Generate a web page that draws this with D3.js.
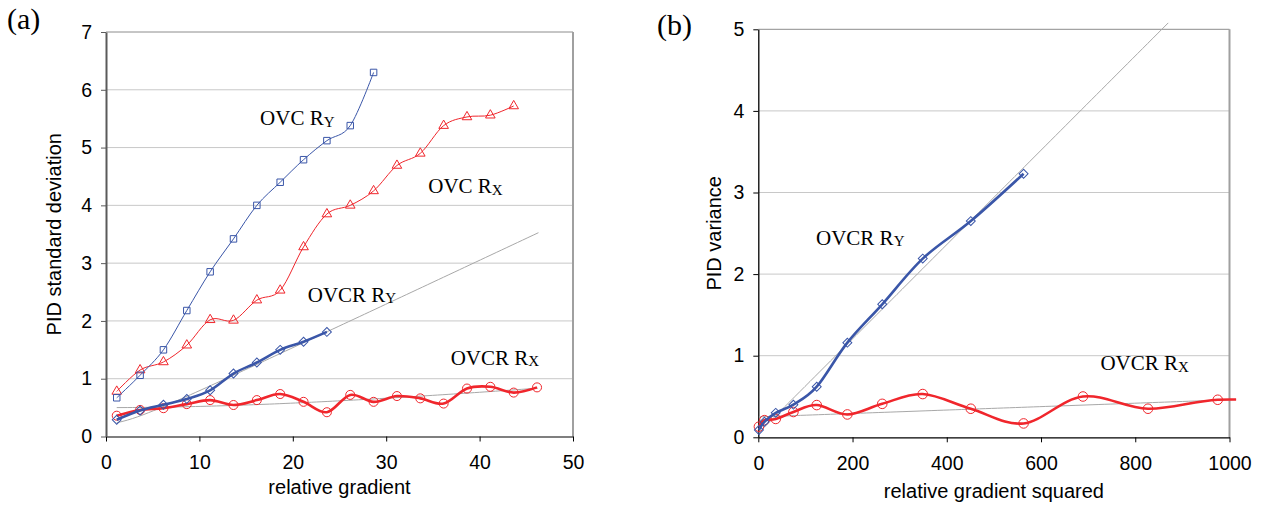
<!DOCTYPE html>
<html>
<head>
<meta charset="utf-8">
<script src="https://cdn.jsdelivr.net/npm/d3@7"></script>
<style>
  html, body { margin: 0; padding: 0; background: #fff; }
  svg { display: block; }
  .tick text { font-family: "Liberation Sans", Arial, sans-serif; font-size: 19.5px; fill: #000; }
  .axis-title { font-family: "Liberation Sans", Arial, sans-serif; font-size: 20px; fill: #000; }
  .note { font-family: "Liberation Serif", "Times New Roman", serif; font-size: 21px; fill: #000; }
  .panel-tag { font-family: "Liberation Serif", "Times New Roman", serif; font-size: 30px; fill: #000; }
</style>
</head>
<body>
<svg id="chart" width="1261" height="508"></svg>
<script>
// ---- panel (a): PID standard deviation vs relative gradient ----
const gradient = [1.15, 3.65, 6.15, 8.65, 11.15, 13.65, 16.15, 18.65, 21.15, 23.65,
                  26.15, 28.65, 31.15, 33.65, 36.15, 38.65, 41.15, 43.65, 46.15];
const sdOvcRY  = [0.67, 1.06, 1.50, 2.18, 2.85, 3.42, 4.00, 4.40, 4.79, 5.12, 5.38, 6.30];
const sdOvcRX  = [0.78, 1.15, 1.29, 1.58, 2.02, 2.01, 2.36, 2.53, 3.28, 3.85, 4.00, 4.25,
                  4.69, 4.90, 5.38, 5.53, 5.56, 5.72];
const sdOvcrRY = [0.29, 0.45, 0.55, 0.65, 0.80, 1.09, 1.28, 1.50, 1.64, 1.81];
const sdOvcrRX = [0.36, 0.46, 0.49, 0.56, 0.63, 0.545, 0.63, 0.735, 0.60, 0.42, 0.72, 0.60,
                  0.70, 0.66, 0.57, 0.83, 0.86, 0.76, 0.85];
const xTicksA = [0, 10, 20, 30, 40, 50];
const yTicksA = [0, 1, 2, 3, 4, 5, 6, 7];

// ---- panel (b): PID variance vs relative gradient squared ----
const gradientSq = [1.3, 13, 37, 74.5, 124, 189, 263, 349, 451, 563, 689, 827, 975, 1132];
const varOvcrRY  = [0.09, 0.19, 0.30, 0.40, 0.62, 1.16, 1.63, 2.19, 2.65, 3.23];
const varOvcrRX  = [0.13, 0.21, 0.225, 0.31, 0.395, 0.28, 0.41, 0.53, 0.35, 0.17, 0.50, 0.35, 0.46, 0.43];
const xTicksB = [0, 200, 400, 600, 800, 1000];
const yTicksB = [0, 1, 2, 3, 4, 5];

// linear fits of variance against gradient squared: [intercept, slope]
const fitRY = [0.05, 0.00578];
const fitRX = [0.25, 0.00021];
const fitSpanA_RY = [1.15, 46.3], fitSpanA_RX = [1.15, 46.2];
const fitSpanB_RY = [1.3, 870],  fitSpanB_RX = [1.3, 1014];

const BLUE = "#3a56a8", RED = "#f0262c";

const svg = d3.select("#chart");

function zip(xs, ys) { return ys.map((v, i) => [xs[i], v]); }

function frame(cfg) {
  const g = svg.append("g");
  const x = d3.scaleLinear().domain(cfg.xDomain).range([cfg.left, cfg.right]);
  const y = d3.scaleLinear().domain(cfg.yDomain).range([cfg.bottom, cfg.top]);

  // horizontal gridlines
  g.append("g").selectAll("line")
    .data(cfg.yTicks.filter(v => v > cfg.yDomain[0] && v < cfg.yDomain[1]))
    .join("line")
    .attr("x1", x(cfg.xDomain[0])).attr("x2", x(cfg.xDomain[1]))
    .attr("y1", d => y(d)).attr("y2", d => y(d))
    .attr("stroke", "#c8c8c8").attr("stroke-width", 1);

  // plot area border (top, right)
  g.append("line")
    .attr("x1", x(cfg.xDomain[0])).attr("x2", x(cfg.xDomain[1]))
    .attr("y1", y(cfg.yDomain[1])).attr("y2", y(cfg.yDomain[1]))
    .attr("stroke", "#8c8c8c").attr("stroke-width", 1);
  g.append("line")
    .attr("x1", x(cfg.xDomain[1])).attr("x2", x(cfg.xDomain[1]))
    .attr("y1", y(cfg.yDomain[1])).attr("y2", y(cfg.yDomain[0]))
    .attr("stroke", "#a0a0a0").attr("stroke-width", 2);

  // axes
  const fmt = d3.format("d");
  const ax = g.append("g").attr("transform", `translate(0,${y(cfg.yDomain[0])})`)
    .call(d3.axisBottom(x).tickValues(cfg.xTicks).tickFormat(fmt)
      .tickSize(5).tickSizeOuter(0).tickPadding(14));
  ax.select(".domain").attr("stroke", "#000").attr("stroke-width", 1.2);
  ax.selectAll(".tick line").attr("stroke", "#000");

  const ay = g.append("g").attr("transform", `translate(${x(cfg.xDomain[0])},0)`)
    .call(d3.axisLeft(y).tickValues(cfg.yTicks).tickFormat(fmt)
      .tickSize(5).tickSizeOuter(0).tickPadding(9));
  ay.select(".domain").attr("stroke", cfg.yAxisColor).attr("stroke-width", cfg.yAxisWidth);
  ay.selectAll(".tick line").attr("stroke", cfg.yAxisColor);

  return { g, x, y };
}

function fitCurve(p, fit, span, squared) {
  const n = 80;
  const pts = d3.range(n + 1).map(i => {
    const xv = span[0] + (span[1] - span[0]) * i / n;
    const yv = squared ? Math.sqrt(fit[0] + fit[1] * xv * xv) : fit[0] + fit[1] * xv;
    return [xv, yv];
  });
  p.g.append("path")
    .attr("d", d3.line().x(d => p.x(d[0])).y(d => p.y(d[1]))(pts))
    .attr("fill", "none").attr("stroke", "#a8a8a8").attr("stroke-width", 1);
}

function series(p, pts, color, width, symbol, size, rotate, xMax) {
  const line = d3.line().curve(d3.curveCardinal.tension(0))
    .x(d => p.x(d[0])).y(d => p.y(d[1]));
  p.g.append("path").attr("d", line(pts))
    .attr("fill", "none").attr("stroke", color).attr("stroke-width", width)
    .attr("stroke-linejoin", "round")
    .attr("clip-path", p.clip ? `url(#${p.clip})` : null);
  const sym = d3.symbol().type(symbol).size(size);
  p.g.append("g").selectAll("path")
    .data(pts.filter(d => d[0] <= xMax))
    .join("path")
    .attr("d", sym)
    .attr("transform", d => `translate(${p.x(d[0])},${p.y(d[1])}) rotate(${rotate})`)
    .attr("fill", "none").attr("stroke", color).attr("stroke-width", 1);
}

function note(p, xv, yv, main, sub) {
  const t = p.g.append("text").attr("class", "note")
    .attr("x", p.x(xv)).attr("y", p.y(yv));
  t.append("tspan").text(main);
  t.append("tspan").attr("font-size", 15).attr("dy", 1.5).text(sub);
}

// ---------- panel (a) ----------
const A = frame({
  xDomain: [0, 50], yDomain: [0, 7], left: 106, right: 573, top: 32, bottom: 436.5,
  xTicks: xTicksA, yTicks: yTicksA, yAxisColor: "#5a5a5a", yAxisWidth: 2
});
fitCurve(A, fitRY, fitSpanA_RY, true);
fitCurve(A, fitRX, fitSpanA_RX, true);
series(A, zip(gradient, sdOvcrRX), RED, 2.6, d3.symbolCircle, 64, 0, 50);
series(A, zip(gradient, sdOvcrRY), BLUE, 2.6, d3.symbolSquare, 40, 45, 50);
series(A, zip(gradient, sdOvcRX), RED, 1, d3.symbolTriangle, 40, 0, 50);
series(A, zip(gradient, sdOvcRY), BLUE, 1, d3.symbolSquare, 42, 0, 50);
note(A, 16.5, 5.39, "OVC R", "Y");
note(A, 34.5, 4.21, "OVC R", "X");
note(A, 21.6, 2.33, "OVCR R", "Y");
note(A, 36.9, 1.24, "OVCR R", "X");

svg.append("text").attr("class", "axis-title")
  .attr("x", A.x(25)).attr("y", 493.5).attr("text-anchor", "middle")
  .text("relative gradient");
svg.append("text").attr("class", "axis-title")
  .attr("transform", `translate(61,${(A.y(0) + A.y(7)) / 2}) rotate(-90)`)
  .attr("text-anchor", "middle")
  .text("PID standard deviation");
svg.append("text").attr("class", "panel-tag").attr("x", 7).attr("y", 29).text("(a)");

// ---------- panel (b) ----------
const B = frame({
  xDomain: [0, 1000], yDomain: [0, 5], left: 758.3, right: 1229.5, top: 29.3, bottom: 437.3,
  xTicks: xTicksB, yTicks: yTicksB, yAxisColor: "#000", yAxisWidth: 1.3
});
svg.append("clipPath").attr("id", "clipB").append("rect")
  .attr("x", B.x(0) - 10).attr("y", 0)
  .attr("width", B.x(fitSpanB_RX[1]) - B.x(0) + 10).attr("height", 508);
B.clip = "clipB";
fitCurve(B, fitRY, fitSpanB_RY, false);
fitCurve(B, fitRX, fitSpanB_RX, false);
series(B, zip(gradientSq, varOvcrRX), RED, 2.6, d3.symbolCircle, 72, 0, 1000);
series(B, zip(gradientSq, varOvcrRY), BLUE, 2.6, d3.symbolSquare, 40, 45, 1000);
note(B, 122.5, 2.36, "OVCR R", "Y");
note(B, 726, 0.824, "OVCR R", "X");

svg.append("text").attr("class", "axis-title")
  .attr("x", B.x(500)).attr("y", 497.5).attr("text-anchor", "middle")
  .text("relative gradient squared");
svg.append("text").attr("class", "axis-title")
  .attr("transform", `translate(721,${(B.y(0) + B.y(5)) / 2}) rotate(-90)`)
  .attr("text-anchor", "middle")
  .text("PID variance");
svg.append("text").attr("class", "panel-tag").attr("x", 657).attr("y", 35).text("(b)");
</script>
</body>
</html>
